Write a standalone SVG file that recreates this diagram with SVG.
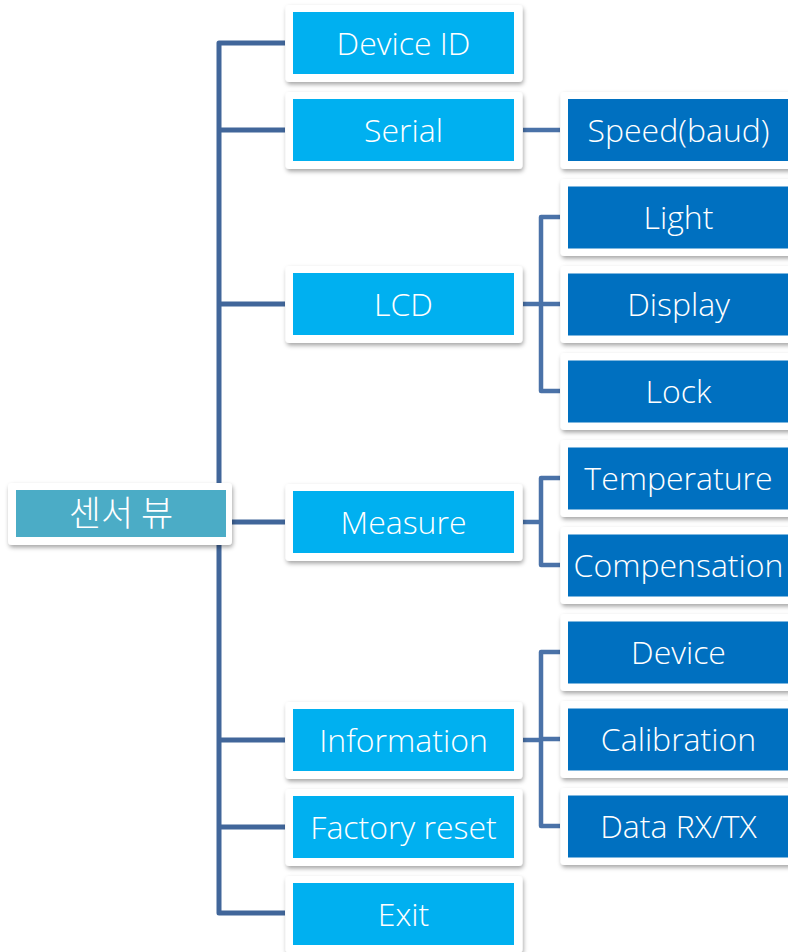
<svg xmlns="http://www.w3.org/2000/svg" width="788" height="952" viewBox="0 0 788 952">
<defs>
<filter id="sh" x="-10%" y="-20%" width="120%" height="150%">
<feDropShadow dx="1" dy="2.5" stdDeviation="2" flood-color="#000" flood-opacity="0.35"/>
</filter>
</defs>
<style>
.frame{fill:#fff;filter:url(#sh)}
.mid{fill:#00B0F0}
.sub{fill:#0070C0}
.root{fill:#4BACC6}
.t{font-family:"Open Sans","Noto Sans",sans-serif;font-size:32px;font-weight:350;fill:#fff;text-anchor:middle}
.tk{font-family:"Noto Sans CJK KR",sans-serif;font-size:35px;font-weight:300;fill:#fff;text-anchor:middle}
.c{fill:none;stroke:#41669A;stroke-width:5;stroke-linejoin:round;stroke-linecap:butt}
.c2{fill:none;stroke:#4A72A8;stroke-width:4.5;stroke-linejoin:round}
</style>
<rect width="788" height="952" fill="#fff"/>
<g id="connectors">
<path class="c" d="M285,43 H219 V913 H285"/>
<path class="c" d="M219,130 H285 M219,304 H285 M219,740 H285 M219,827 H285 M232,522 H285"/>
<path class="c2" d="M523,130 H560"/>
<path class="c2" d="M523,304 H541 M560,217 H541 V391 H560 M541,304 H560"/>
<path class="c2" d="M523,522 H541 M560,478 H541 V565 H560"/>
<path class="c2" d="M523,740 H541 M560,652 H541 V826 H560 M541,739 H560"/>
</g>
<g id="root">
<rect class="frame" x="8" y="483" width="224" height="62" rx="4"/>
<rect class="root" x="16" y="490" width="210" height="47"/>
<text class="tk" x="121" y="526">센서 뷰</text>
</g>
<g id="device-id">
<rect class="frame" x="285.5" y="5" width="237" height="77" rx="4"/>
<rect class="mid" x="293" y="12" width="221" height="62"/>
<text class="t" x="403.5" y="55">Device ID</text>
</g>
<g id="serial">
<rect class="frame" x="285.5" y="92" width="237" height="77" rx="4"/>
<rect class="mid" x="293" y="99" width="221" height="62"/>
<text class="t" x="403.5" y="142">Serial</text>
</g>
<g id="lcd">
<rect class="frame" x="285.5" y="266" width="237" height="77" rx="4"/>
<rect class="mid" x="293" y="273" width="221" height="62"/>
<text class="t" x="403.5" y="316">LCD</text>
</g>
<g id="measure">
<rect class="frame" x="285.5" y="484" width="237" height="77" rx="4"/>
<rect class="mid" x="293" y="491" width="221" height="62"/>
<text class="t" x="403.5" y="534">Measure</text>
</g>
<g id="information">
<rect class="frame" x="285.5" y="702" width="237" height="77" rx="4"/>
<rect class="mid" x="293" y="709" width="221" height="62"/>
<text class="t" x="403.5" y="752">Information</text>
</g>
<g id="factory-reset">
<rect class="frame" x="285.5" y="789" width="237" height="77" rx="4"/>
<rect class="mid" x="293" y="796" width="221" height="62"/>
<text class="t" x="403.5" y="839">Factory reset</text>
</g>
<g id="exit">
<rect class="frame" x="285.5" y="876" width="237" height="77" rx="4"/>
<rect class="mid" x="293" y="883" width="221" height="62"/>
<text class="t" x="403.5" y="926">Exit</text>
</g>
<g id="speed">
<rect class="frame" x="560.5" y="92" width="237" height="77" rx="4"/>
<rect class="sub" x="568" y="99" width="221" height="62"/>
<text class="t" x="678.5" y="142">Speed(baud)</text>
</g>
<g id="light">
<rect class="frame" x="560.5" y="179" width="237" height="77" rx="4"/>
<rect class="sub" x="568" y="186.5" width="221" height="62"/>
<text class="t" x="678.5" y="229">Light</text>
</g>
<g id="display">
<rect class="frame" x="560.5" y="266" width="237" height="77" rx="4"/>
<rect class="sub" x="568" y="273.5" width="221" height="62"/>
<text class="t" x="678.5" y="316">Display</text>
</g>
<g id="lock">
<rect class="frame" x="560.5" y="353" width="237" height="77" rx="4"/>
<rect class="sub" x="568" y="360.5" width="221" height="62"/>
<text class="t" x="678.5" y="403">Lock</text>
</g>
<g id="temperature">
<rect class="frame" x="560.5" y="440" width="237" height="77" rx="4"/>
<rect class="sub" x="568" y="447.5" width="221" height="62"/>
<text class="t" x="678.5" y="490">Temperature</text>
</g>
<g id="compensation">
<rect class="frame" x="560.5" y="527" width="237" height="77" rx="4"/>
<rect class="sub" x="568" y="534.5" width="221" height="62"/>
<text class="t" x="678.5" y="577">Compensation</text>
</g>
<g id="device">
<rect class="frame" x="560.5" y="614" width="237" height="77" rx="4"/>
<rect class="sub" x="568" y="621.5" width="221" height="62"/>
<text class="t" x="678.5" y="664">Device</text>
</g>
<g id="calibration">
<rect class="frame" x="560.5" y="701" width="237" height="77" rx="4"/>
<rect class="sub" x="568" y="708.5" width="221" height="62"/>
<text class="t" x="678.5" y="751">Calibration</text>
</g>
<g id="data-rxtx">
<rect class="frame" x="560.5" y="788" width="237" height="77" rx="4"/>
<rect class="sub" x="568" y="795.5" width="221" height="62"/>
<text class="t" x="678.5" y="838">Data RX/TX</text>
</g>
</svg>
